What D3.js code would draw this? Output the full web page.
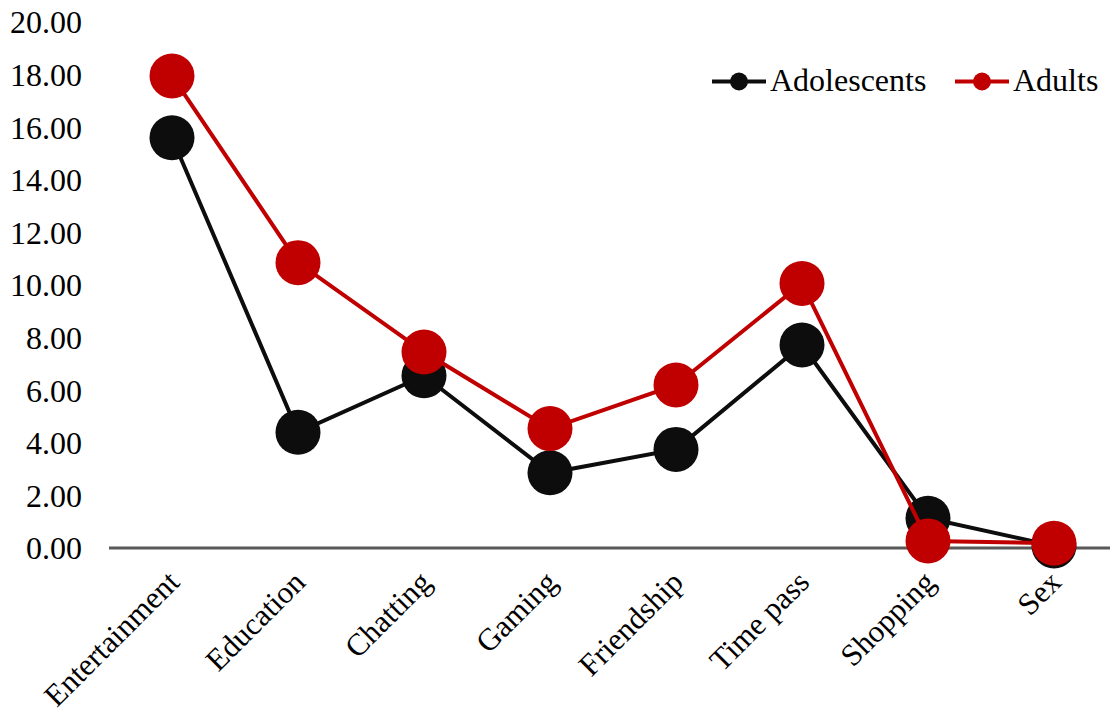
<!DOCTYPE html>
<html>
<head>
<meta charset="utf-8">
<script src="https://cdn.jsdelivr.net/npm/d3@7"></script>
<style>
  html, body { margin: 0; padding: 0; background: #fff; }
  svg { display: block; }
  text { font-family: "Liberation Serif", "Times New Roman", serif; fill: #000; }
</style>
</head>
<body>
<svg id="chart" width="1110" height="715"></svg>
<script>
// Reasons for internet use, by age group
const categories = ["Entertainment", "Education", "Chatting", "Gaming", "Friendship", "Time pass", "Shopping", "Sex"];
const adolescents = [15.6, 4.4, 6.55, 2.86, 3.75, 7.72, 1.13, 0.08];
const adults = [17.95, 10.85, 7.45, 4.54, 6.2, 10.06, 0.27, 0.18];
const yTicks = [0, 2, 4, 6, 8, 10, 12, 14, 16, 18, 20];

const seriesList = [
  { name: "Adolescents", values: adolescents, color: "#0d0d0d" },
  { name: "Adults", values: adults, color: "#c00000" }
];

const svg = d3.select("#chart");
const fontSize = 32;

const x = d3.scaleBand().domain(categories).range([109, 1117]).padding(0);
const y = d3.scaleLinear().domain([0, 20]).range([548, 22]);

// y axis: labels only
const yAxis = d3.axisLeft(y).tickValues(yTicks).tickFormat(d3.format(".2f")).tickSize(0).tickPadding(0);
const yG = svg.append("g").attr("transform", "translate(82,0)").call(yAxis);
yG.select(".domain").remove();
yG.selectAll("text")
  .style("font-family", "'Liberation Serif', 'Times New Roman', serif")
  .style("font-size", fontSize + "px")
  .attr("fill", "#000")
  .attr("dy", "0.34em");

// x axis baseline
svg.append("line")
  .attr("x1", 109).attr("x2", 1110)
  .attr("y1", y(0)).attr("y2", y(0))
  .attr("stroke", "#595959").attr("stroke-width", 3);

// category labels, rotated
svg.append("g").selectAll("text")
  .data(categories)
  .join("text")
  .attr("transform", d => `translate(${x(d) + x.bandwidth() / 2 + 9},584) rotate(-45)`)
  .attr("text-anchor", "end")
  .style("font-size", "31px")
  .text(d => d);

// series lines and markers
const line = d3.line()
  .x((d, i) => x(categories[i]) + x.bandwidth() / 2)
  .y(d => y(d));

seriesList.forEach(s => {
  const g = svg.append("g");
  g.append("path")
    .datum(s.values)
    .attr("d", line)
    .attr("fill", "none")
    .attr("stroke", s.color)
    .attr("stroke-width", 4);
  g.selectAll("circle")
    .data(s.values)
    .join("circle")
    .attr("cx", (d, i) => x(categories[i]) + x.bandwidth() / 2)
    .attr("cy", d => y(d))
    .attr("r", 22.5)
    .attr("fill", s.color);
});

// legend
const legendItems = [
  { s: seriesList[0], x0: 712, x1: 766 },
  { s: seriesList[1], x0: 955, x1: 1009 }
];
const ly = 81.5;
legendItems.forEach(it => {
  const g = svg.append("g");
  g.append("line")
    .attr("x1", it.x0).attr("x2", it.x1)
    .attr("y1", ly).attr("y2", ly)
    .attr("stroke", it.s.color).attr("stroke-width", 4);
  g.append("circle")
    .attr("cx", (it.x0 + it.x1) / 2).attr("cy", ly)
    .attr("r", 9).attr("fill", it.s.color);
  g.append("text")
    .attr("x", it.x1 + 4).attr("y", ly)
    .attr("dy", "0.3em")
    .style("font-size", fontSize + "px")
    .text(it.s.name);
});
</script>
</body>
</html>
